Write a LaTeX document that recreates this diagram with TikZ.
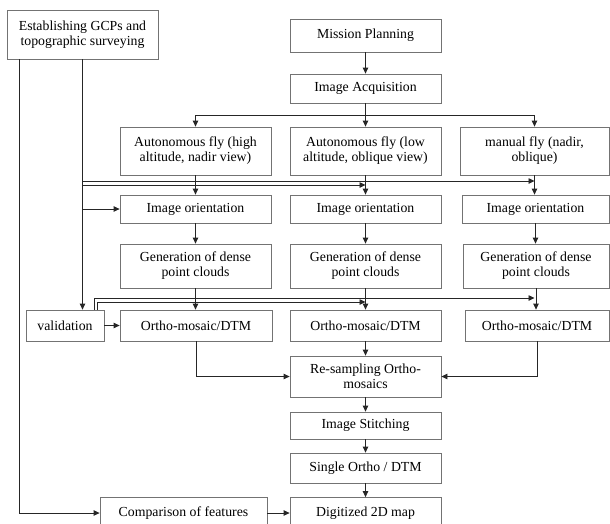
\documentclass[tikz,border=0pt]{standalone}
\usepackage{fontspec}
\setmainfont{Liberation Serif}
\usetikzlibrary{arrows.meta}

\begin{document}
\begin{tikzpicture}[x=1pt,y=-1pt,line width=0.8pt]
\tikzstyle{every node}=[draw=black!55,align=center,inner sep=1pt,font=\fontsize{13.8}{15}\selectfont]
\tikzstyle{box}=[minimum width=151pt]
\tikzstyle{arr}=[draw=black!85,-{Triangle[length=6pt,width=5.5pt]}]
\tikzstyle{ln}=[draw=black!85]

\useasboundingbox (0,0) rectangle (610,523);
\clip (0,0) rectangle (610,523);

% boxes
\node[box,minimum height=49pt] (gcp) at (82.5,34.5) {Establishing GCPs and\\topographic surveying};
\node[box,minimum height=33pt] (plan) at (365.5,35.5) {Mission Planning};
\node[box,minimum height=29pt] (acq) at (365.5,88.5) {Image Acquisition};

\node[box,minimum height=48pt] (fly1) at (195.5,151) {Autonomous fly (high\\altitude, nadir view)};
\node[box,minimum height=48pt] (fly2) at (365.5,151) {Autonomous fly (low\\altitude, oblique view)};
\node[box,minimum width=149pt,minimum height=48pt] (fly3) at (534.5,151) {manual fly (nadir,\\oblique)};

\node[box,minimum height=28pt] (ori1) at (195.5,209) {Image orientation};
\node[box,minimum height=28pt] (ori2) at (365.5,209) {Image orientation};
\node[box,minimum width=147pt,minimum height=28pt] (ori3) at (535.5,209) {Image orientation};

\node[box,minimum height=44pt] (gen1) at (195.5,266) {Generation of dense\\point clouds};
\node[box,minimum height=44pt] (gen2) at (365.5,266) {Generation of dense\\point clouds};
\node[box,minimum width=146pt,minimum height=44pt] (gen3) at (536,266) {Generation of dense\\point clouds};

\node[minimum width=78pt,minimum height=31pt] (val) at (65,325.5) {validation};
\node[box,minimum width=152pt,minimum height=31pt] (ort1) at (196,325.5) {Ortho-mosaic/DTM};
\node[box,minimum height=31pt] (ort2) at (365.5,325.5) {Ortho-mosaic/DTM};
\node[box,minimum width=144pt,minimum height=31pt] (ort3) at (537,325.5) {Ortho-mosaic/DTM};

\node[box,minimum height=41pt] (res) at (365.5,376.5) {Re-sampling Ortho-\\mosaics};
\node[box,minimum height=27pt] (sti) at (365.5,425.5) {Image Stitching};
\node[box,minimum height=30pt] (sin) at (365.5,468) {Single Ortho / DTM};
\node[minimum width=167pt,minimum height=31pt] (cmp) at (183.5,513) {Comparison of features};
\node[box,minimum height=31pt] (dig) at (365.5,513) {Digitized 2D map};

% helper points
\coordinate (br) at (365.5,115);
\coordinate (ga) at (83,181);
\coordinate (gb) at (83,185);
\coordinate (gc) at (83,209);
\coordinate (va) at (94,298);
\coordinate (vb) at (97,302);
\coordinate (gl) at (19,513);

% main flow
\draw[arr] (plan) -- (acq);
\draw[arr] (acq) -- (fly2);
\draw[arr] (br) -| (fly1.north);
\draw[arr] (br) -| (fly3.north);

\draw[arr] (fly1) -- (ori1);
\draw[arr] (fly2) -- (ori2);
\draw[arr] (fly3.south) -- (fly3.south |- ori3.north);
\draw[arr] (ori1) -- (gen1);
\draw[arr] (ori2) -- (gen2);
\draw[arr] (ori3.south) -- (ori3.south |- gen3.north);
\draw[arr] (gen1.south) -- (gen1.south |- ort1.north);
\draw[arr] (gen2) -- (ort2);
\draw[arr] (gen3.south) -- (gen3.south |- ort3.north);

\draw[arr] (ort1.south) |- (res.west);
\draw[arr] (ort2) -- (res);
\draw[arr] (ort3.south) |- (res.east);
\draw[arr] (res) -- (sti);
\draw[arr] (sti) -- (sin);
\draw[arr] (sin) -- (dig);

% control points
\draw[arr] (gcp.south) -- (gcp.south |- val.north);
\draw[arr] (ga) -- (ga -| fly3.south);
\draw[arr] (gb) -- (gb -| fly2.south);
\draw[arr] (gc) -- (ori1.west);

\draw[arr] (val.north -| va) -- (va) -- (va -| fly3.south);
\draw[arr] (val.north -| vb) -- (vb) -- (vb -| fly2.south);
\draw[arr] (val) -- (ort1);

\draw[arr] (gcp.south -| gl) -- (gl) -- (cmp.west);
\draw[arr] (cmp) -- (dig);

\end{tikzpicture}
\end{document}
